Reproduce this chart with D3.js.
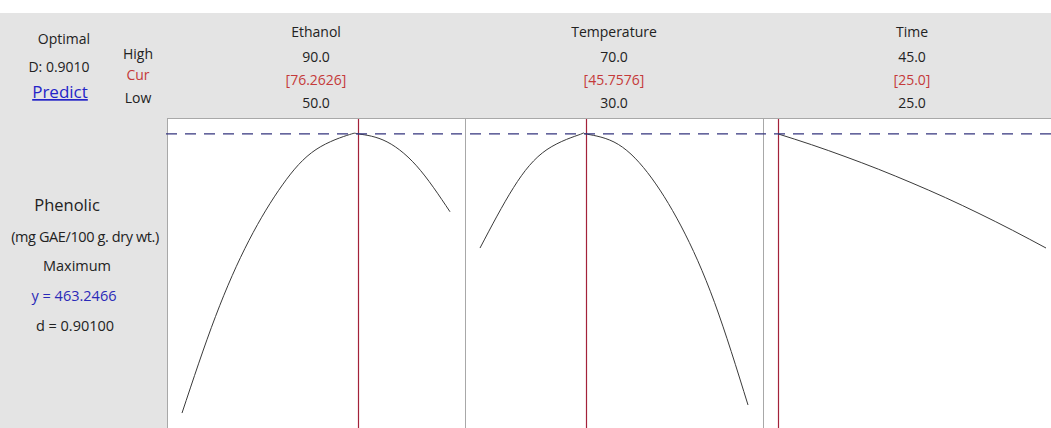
<!DOCTYPE html>
<html>
<head>
<meta charset="utf-8">
<script src="https://cdn.jsdelivr.net/npm/d3@7"></script>
<style>
  html, body { margin: 0; padding: 0; background: #ffffff; }
  svg { display: block; font-family: "Open Sans", "Noto Sans", sans-serif; }
</style>
</head>
<body>
<svg id="chart" width="1051" height="428"></svg>
<script>
// Factor settings (high / current / low)
const factors = ["Ethanol", "Temperature", "Time"];
const factorHigh = [90.0, 70.0, 45.0];
const factorLow = [50.0, 30.0, 25.0];
const factorCur = [76.2626, 45.7576, 25.0];
const curLabels = ["[76.2626]", "[45.7576]", "[25.0]"];
const highLabels = ["90.0", "70.0", "45.0"];
const lowLabels = ["50.0", "30.0", "25.0"];

// Predicted phenolic response along each factor (others held at optimum)
const ethanolX = [50, 55, 60, 65, 70, 75, 76.2626, 80, 85, 90];
const ethanolY = [203.9, 293.6, 364.3, 415.9, 448.7, 462.6, 463.2466, 457.6, 433.6, 390.9];
const temperatureX = [30, 35, 40, 45, 45.7576, 50, 55, 60, 65, 70];
const temperatureY = [357.2, 413.3, 448.7, 462.9, 463.2466, 455.7, 427.3, 377.7, 306.7, 211.4];
const timeX = [25, 27.5, 30, 32.5, 35, 37.5, 40, 42.5, 45];
const timeY = [463.2466, 453.2, 442.2, 430.4, 417.6, 404.0, 389.3, 373.7, 357.2];

const optimumY = 463.2466;
const responseDomain = [190, 478];

const seriesX = [ethanolX, temperatureX, timeX];
const seriesY = [ethanolY, temperatureY, timeY];

const W = 1051, H = 428;
const headerTop = 13, plotTop = 118, leftW = 167, panelW = 298, inset = 15;
const grey = "#e4e4e4";

const svg = d3.select("#chart");

// backgrounds
svg.append("rect").attr("x", 0).attr("y", headerTop).attr("width", W).attr("height", plotTop - headerTop).attr("fill", grey);
svg.append("rect").attr("x", 0).attr("y", plotTop).attr("width", leftW).attr("height", H - plotTop).attr("fill", grey);
svg.append("rect").attr("x", leftW).attr("y", plotTop).attr("width", W - leftW).attr("height", H - plotTop).attr("fill", "#ffffff");

const y = d3.scaleLinear().domain(responseDomain).range([H, plotTop]);

// left header text
const txt = (x, yy, s, size, fill, anchor = "middle") =>
  svg.append("text").attr("x", x).attr("y", yy).attr("text-anchor", anchor)
    .attr("font-size", size).attr("fill", fill).text(s);

txt(64, 44, "Optimal", 14, "#222");
txt(59, 72, "D: 0.9010", 14, "#222");
txt(60, 98, "Predict", 17, "#2424c8").attr("text-decoration", "underline");
txt(138, 59, "High", 14, "#222");
txt(138, 80, "Cur", 14, "#c43a3a");
txt(138, 103, "Low", 14, "#222");

// response description
txt(67, 211, "Phenolic", 16.5, "#222");
txt(85, 242, "(mg GAE/100 g. dry wt.)", 14.5, "#222").attr("letter-spacing", "-0.4");
txt(77, 271, "Maximum", 14.5, "#222");
txt(74, 301, "y = 463.2466", 14.5, "#2a2ab8");
txt(75, 331, "d = 0.90100", 14.5, "#222");

// panels
factors.forEach((name, i) => {
  const x0 = leftW + i * panelW;
  const cx = x0 + panelW / 2;
  const x = d3.scaleLinear().domain([factorLow[i], factorHigh[i]]).range([x0 + inset, x0 + panelW - inset]);

  txt(cx, 37, name, 14, "#222");
  txt(cx, 62, highLabels[i], 14, "#222");
  txt(cx, 85, curLabels[i], 14, "#c43a3a");
  txt(cx, 108, lowLabels[i], 14, "#222");

  // panel divider
  svg.append("line").attr("x1", x0 + 0.5).attr("x2", x0 + 0.5).attr("y1", plotTop).attr("y2", H)
    .attr("stroke", "#a8a8a8").attr("stroke-width", 1);

  // current setting
  svg.append("line").attr("x1", Math.round(x(factorCur[i])) + 0.5).attr("x2", Math.round(x(factorCur[i])) + 0.5)
    .attr("y1", plotTop).attr("y2", H).attr("stroke", "#a3223a").attr("stroke-width", 1.2);

  const pts = seriesX[i].map((v, k) => [v, seriesY[i][k]]);
  const line = d3.line().x(d => x(d[0])).y(d => y(d[1])).curve(d3.curveNatural);
  svg.append("path").attr("d", line(pts)).attr("fill", "none").attr("stroke", "#3a3a3a").attr("stroke-width", 1);
});

// top border of plot area
svg.append("line").attr("x1", leftW).attr("x2", W).attr("y1", plotTop + 0.5).attr("y2", plotTop + 0.5)
  .attr("stroke", "#a8a8a8").attr("stroke-width", 1);

// optimum response level
svg.append("line").attr("x1", leftW - 1).attr("x2", W).attr("y1", y(optimumY)).attr("y2", y(optimumY))
  .attr("stroke", "#34347e").attr("stroke-width", 1.2).attr("stroke-dasharray", "11,8");
</script>
</body>
</html>
